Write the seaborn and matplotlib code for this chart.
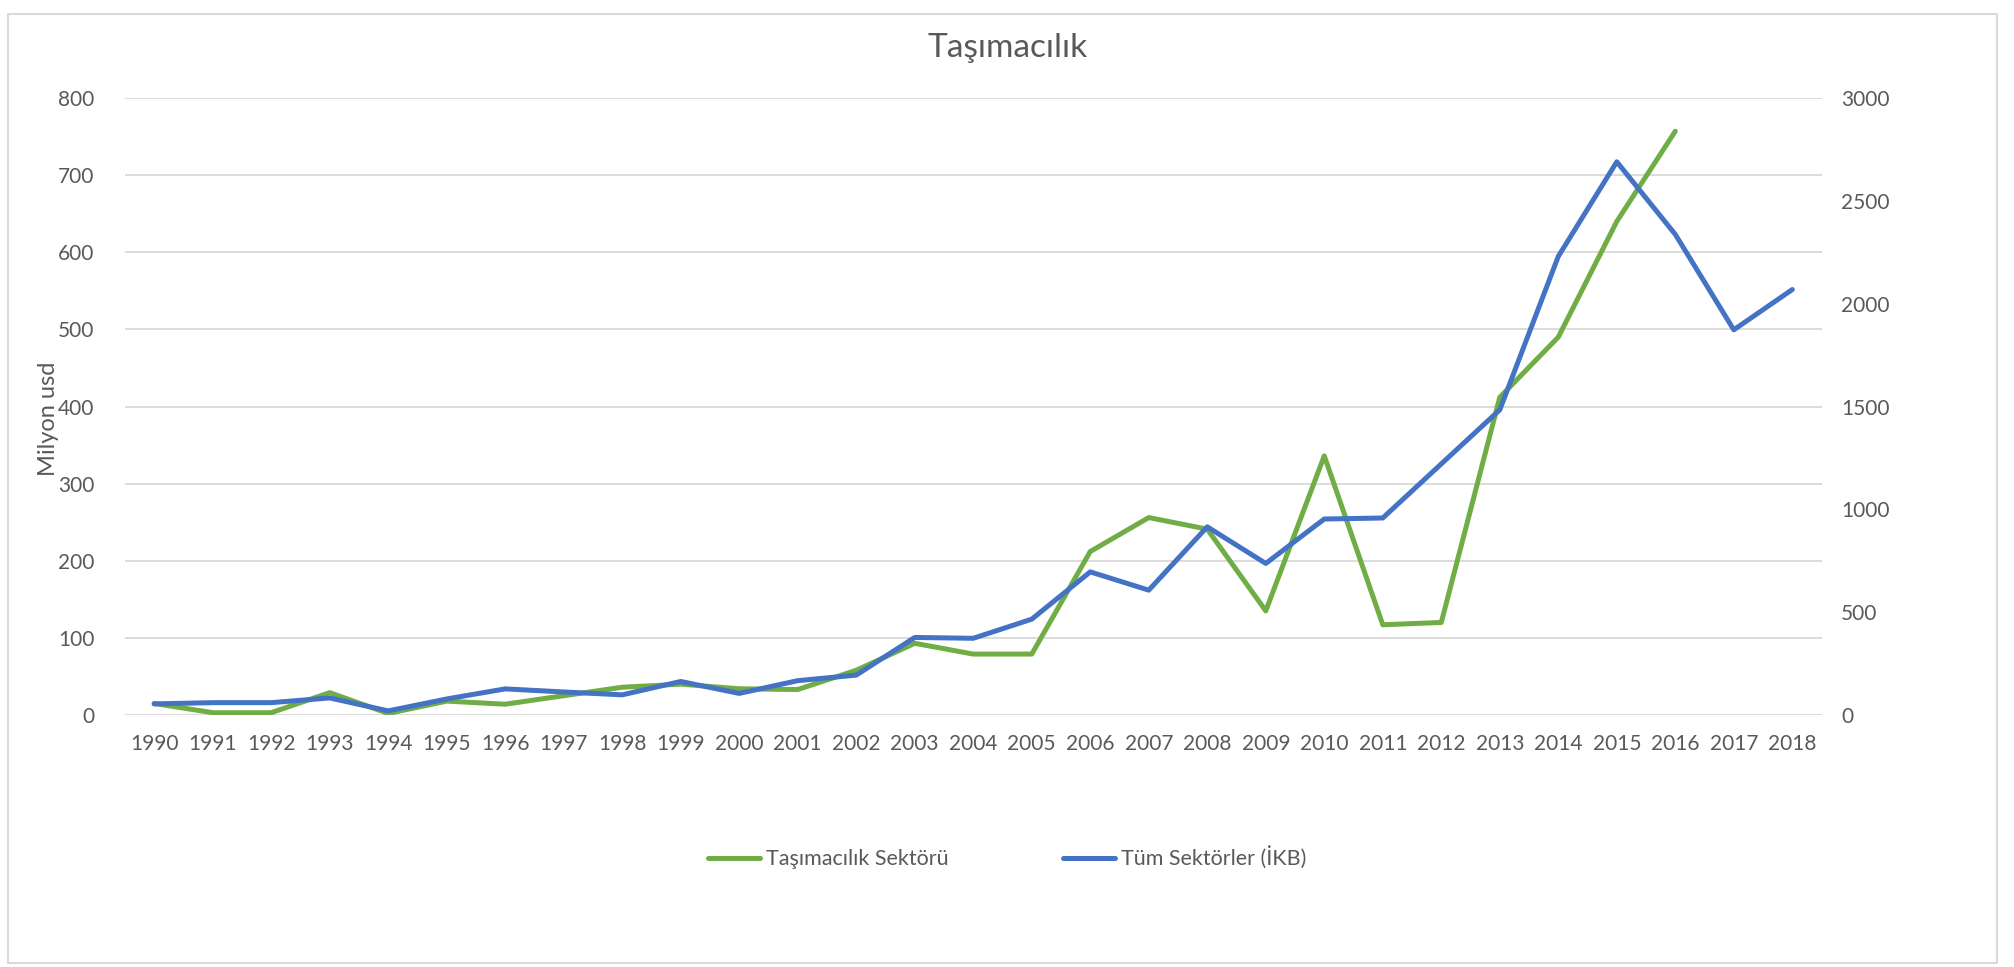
import matplotlib
matplotlib.use('Agg')
import matplotlib.pyplot as plt
import seaborn as sns
import pandas as pd
import numpy as np
from matplotlib.patches import Rectangle

# Datos
years = list(range(1990, 2019))
tasimacilik = [15, 3, 3, 29, 2, 18, 14, 25, 36, 40,
               34, 33, 58, 93, 79, 79, 212, 256, 241, 135,
               336, 117, 120, 412, 490, 640, 757, np.nan, np.nan]
tum_sektorler = [54, 60, 60, 83, 20, 78, 127, 112, 98, 163,
                 105, 167, 194, 377, 373, 466, 696, 607, 915, 737,
                 953, 958, 1221, 1484, 2230, 2690, 2337, 1873, 2069]
left_ticks = [0, 100, 200, 300, 400, 500, 600, 700, 800]
right_ticks = [0, 500, 1000, 1500, 2000, 2500, 3000]

df = pd.DataFrame({'pos': range(len(years)), 'year': years,
                   'tas': tasimacilik, 'tum': tum_sektorler})

sns.set_style('white')
plt.rcParams['font.family'] = ['Lato', 'DejaVu Sans']

txt = '#595959'
green = '#70AD47'
blue = '#4472C4'

fig = plt.figure(figsize=(20.15, 9.67), dpi=100)
fig.patches.append(Rectangle((0.004, 0.004), 0.987, 0.982, transform=fig.transFigure,
                             fill=False, edgecolor='#D9D9D9', linewidth=1.5))

ax = fig.add_axes([0.062, 0.2606, 0.842, 0.638])
ax2 = ax.twinx()

sns.lineplot(data=df, x='pos', y='tas', ax=ax, color=green, linewidth=3.6,
             label='Taşımacılık Sektörü', legend=False)
sns.lineplot(data=df, x='pos', y='tum', ax=ax2, color=blue, linewidth=3.6,
             label='Tüm Sektörler (İKB)', legend=False)

ax.set_xlim(-0.5, len(years) - 0.5)
ax.set_ylim(0, 800)
ax2.set_ylim(0, 3000)
ax.set_yticks(left_ticks)
ax2.set_yticks(right_ticks)
ax.set_xticks(range(len(years)))
ax.set_xticklabels([str(y) for y in years])

ax.grid(axis='y', color='#D9D9D9', linewidth=1.3)
ax.grid(axis='x', visible=False)
ax2.grid(False)
ax.set_axisbelow(True)

for a in (ax, ax2):
    for s in a.spines.values():
        s.set_visible(False)
    a.tick_params(length=0, labelsize=15, colors=txt)
ax.tick_params(axis='x', pad=14)
ax.tick_params(axis='y', pad=22)
ax2.tick_params(axis='y', pad=14)

ax.set_xlabel('')
ax2.set_ylabel('')
ax.set_ylabel('Milyon usd', fontsize=17, color=txt)
ax.yaxis.set_label_coords(-0.039, 0.48)

fig.text(0.5, 0.950, 'Taşımacılık', ha='center', va='center', fontsize=24, color=txt)

h1, l1 = ax.get_legend_handles_labels()
h2, l2 = ax2.get_legend_handles_labels()
fig.legend(h1 + h2, l1 + l2, loc='center', bbox_to_anchor=(0.5, 0.113), ncol=2,
           frameon=False, fontsize=15.5, labelcolor=txt, handlelength=2.4,
           handletextpad=0.3, columnspacing=5.3)

fig.savefig('out.png', dpi=100)
